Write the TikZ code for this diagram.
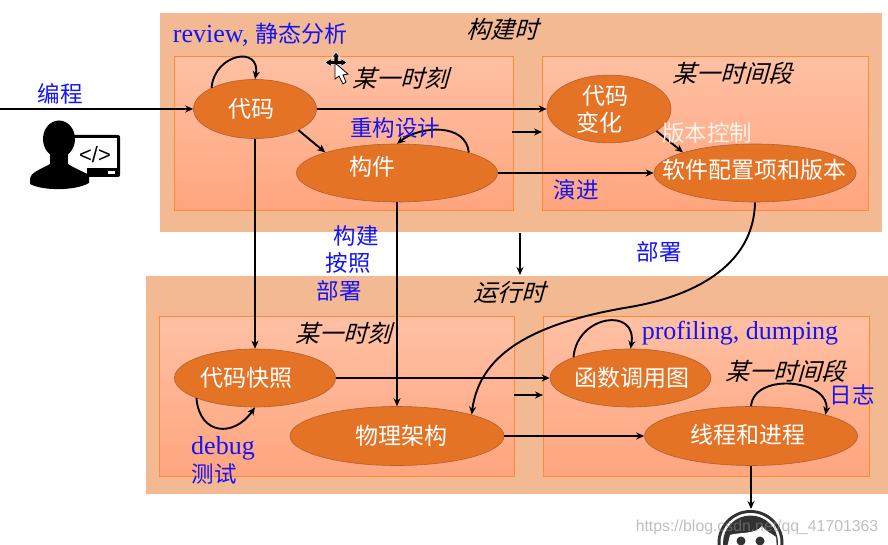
\documentclass[tikz,border=0pt]{standalone}
\usepackage{fontspec}
\setmainfont{Liberation Serif}
\newfontfamily\cjk{Noto Sans CJK SC}
\newfontfamily\cjkslant[FakeSlant=0.28]{Noto Sans CJK SC}
\newfontfamily\marksans{Liberation Sans}
\usetikzlibrary{positioning,arrows.meta,shapes.geometric}
\def\moved#1#2#3{\raisebox{#2}{\makebox[0pt]{\hspace{#1}\hspace{#1}#3}}}
\definecolor{outerfill}{RGB}{243,185,147}
\definecolor{innertop}{RGB}{255,192,164}
\definecolor{innerbottom}{RGB}{255,165,126}
\definecolor{boxline}{RGB}{255,138,51}
\definecolor{stagefill}{RGB}{228,115,38}
\definecolor{stageline}{RGB}{176,96,48}
\definecolor{notecolor}{RGB}{20,20,245}
\definecolor{headdark}{RGB}{50,50,50}
\begin{document}
\begin{tikzpicture}[>={Stealth[width=7pt,length=8pt]}, line width=1.9pt, x=1pt, y=1pt,
outerbox/.style={rectangle, anchor=north west, fill=outerfill, inner sep=0pt},
innerbox/.style={rectangle, anchor=north west, draw=boxline, line width=0.8pt, top color=innertop, bottom color=innerbottom, inner sep=0pt},
stage/.style={ellipse, draw=stageline, line width=0.6pt, fill=stagefill, text=white, inner sep=0pt, font=\cjk\fontsize{23}{27}\selectfont},
note/.style={text=notecolor, inner sep=0pt, font=\cjk\fontsize{22.5}{27}\selectfont},
latinnote/.style={text=notecolor, inner sep=0pt, font=\fontsize{26}{28}\selectfont},
period/.style={text=black, inner sep=0pt, font=\cjkslant\fontsize{24}{27}\selectfont}]
\useasboundingbox (0,0) rectangle (888,-545);
\fill[white] (0,0) rectangle (888,-545);
% regions
\draw (159,-12)node[outerbox,minimum width=722pt,minimum height=219pt](buildtime){};
\draw (145,-275)node[outerbox,minimum width=743pt,minimum height=218pt](runtime){};
\draw (174,-56)node[innerbox,minimum width=339pt,minimum height=154pt](buildmoment){};
\draw (542,-56)node[innerbox,minimum width=326pt,minimum height=154pt](buildspan){};
\draw (159,-316)node[innerbox,minimum width=355pt,minimum height=160pt](runmoment){};
\draw (543,-316)node[innerbox,minimum width=326pt,minimum height=160pt](runspan){};
% stages
\draw (255,-109)node[stage,minimum width=123pt,minimum height=59pt](code){\moved{-4pt}{1pt}{代码}};
\draw (397,-173)node[stage,minimum width=201pt,minimum height=58pt](component){\moved{-25pt}{15pt}{构件}};
\draw (609,-109)node[stage,minimum width=124pt,minimum height=59pt](codechange){\moved{-4pt}{13pt}{代码}\moved{-10pt}{-14pt}{变化}};
\draw (755,-173)node[stage,minimum width=202pt,minimum height=58pt](scm){\moved{-1pt}{9pt}{软件配置项和版本}};
\draw (255,-378)node[stage,minimum width=161pt,minimum height=58pt](snapshot){\moved{-9pt}{0pt}{代码快照}};
\draw (397,-436)node[stage,minimum width=214pt,minimum height=59pt](arch){\moved{4pt}{0pt}{物理架构}};
\draw (630.5,-378)node[stage,minimum width=161pt,minimum height=58pt](callgraph){\moved{1pt}{2pt}{函数调用图}};
\draw (751,-436)node[stage,minimum width=213pt,minimum height=59pt](threads){\moved{-3pt}{4pt}{线程和进程}};
\coordinate (input) at (0,-109);
\coordinate (gapa) at (512,-132);
\coordinate (gapb) at (542,-132);
\coordinate (gapc) at (514,-395);
\coordinate (gapd) at (543,-395);
\coordinate (curvemid) at (630,-307);
\coordinate (headtop) at (751,-509);
% connectors
\path[->] (input) edge (code.west);
\path[->] (code.east) edge (codechange.west);
\path[->] (component.east) edge (scm.west);
\path[->] (code.-26) edge (component.164);
\path[->] (codechange.-25) edge (scm.164);
\path[->] (code.south) edge (snapshot.north);
\path[->] (component.south) edge (arch.north);
\path[->] (snapshot.east) edge (callgraph.west);
\path[->] (arch.east) edge (threads.west);
\path[->] (gapa) edge (gapb);
\path[->] (gapc) edge (gapd);
\path[->] (buildtime.south -| 520,0) edge (runtime.north -| 520,0);
\path[->] (threads.south) edge (headtop);
\draw[->] (scm.south) .. controls (754,-262) and (700,-295) .. (curvemid) .. controls (540,-322) and (480,-350) .. (arch.16.5);
\path[->] (code.154) edge[out=85,in=80,looseness=2] (code.north);
\path[->] (component.16) edge[out=95,in=38,looseness=1.05] (component.north);
\path[->] (snapshot.199) edge[out=-85,in=-125,looseness=1.6] (snapshot.south);
\path[->] (callgraph.160) edge[out=85,in=80,looseness=1.9] (callgraph.north);
\path[->] (threads.north) edge[out=85,in=80,looseness=1.2] (threads.16);
% texts
\draw (172,-35)node[latinnote,anchor=west](review){review, {\cjk\fontsize{23}{27}\selectfont 静态分析}};
\draw (60,-94)node[note](coding){编程};
\draw (395,-128)node[note](refactor){重构设计};
\draw (707,-133)node[note,text=white!92!orange](versioning){版本控制};
\draw (576,-190)node[note](evolve){演进};
\draw (659,-252)node[note](deploya){部署};
\draw (356,-236)node[note](construct){构建};
\draw (348,-263)node[note](according){按照};
\draw (339,-291)node[note](deployb){部署};
\draw (223,-448)node[latinnote](debug){debug};
\draw (214,-474)node[note](testing){测试};
\draw (740,-333)node[latinnote](profiling){profiling, dumping};
\draw (852,-395)node[note](logging){日志};
\draw (502,-29)node[period](buildlabel){构建时};
\draw (400,-78)node[period](momenta){某一时刻};
\draw (732,-73)node[period](spana){某一时间段};
\draw (509,-292)node[period](runlabel){运行时};
\draw (343,-333)node[period](momentb){某一时刻};
\draw (785,-371)node[period](spanb){某一时间段};
% programmer at a screen
\fill[black,rounded corners=2pt] (66,-135) rectangle (120,-177);
\fill[white] (62,-138) rectangle (117,-168);
\fill[white] (62,-168) rectangle (87,-179);
\fill[white] (108,-171) rectangle (115,-174);
\draw (95,-155)node[inner sep=0pt,font=\marksans\fontsize{22}{22}\selectfont](tag){</>};
\fill[white] (60,-125) rectangle (66,-135);
\fill[white] (66,-128) rectangle (74,-135);
\fill[black] (59,-139) ellipse (16 and 18.5);
\fill[black] (50,-150) rectangle (68,-166);
\fill[black] (30,-180) .. controls (30,-172) and (40,-170) .. (50,-164) -- (68,-164) .. controls (74,-168) and (84,-172) .. (89,-175) -- (89,-183) .. controls (75,-191) and (43,-191) .. (30,-184) -- cycle;
% support head, cut by the lower edge
\begin{scope}
\clip (0,0) rectangle (888,-545);
\fill[headdark] (750.5,-543) circle (33);
\fill[white] (750.5,-543) circle (30);
\fill[headdark] (750.5,-543) circle (27.5);
\fill[white] (724,-560) -- (730,-535) .. controls (737,-532) and (755,-535) .. (762,-526) .. controls (765,-531) and (771,-533) .. (776,-537) -- (778,-560) -- cycle;
\fill[headdark] (741,-541) circle (4.5);
\fill[headdark] (760,-541) circle (4.5);
\end{scope}
% pointer
\draw[black,fill=black,line width=0.5pt,draw=white] (336,-52) -- (340,-57) -- (338,-57) -- (338,-60.5) -- (341,-60.5) -- (341,-58.5) -- (347,-62.5) -- (341,-66.5) -- (341,-64.5) -- (331,-64.5) -- (331,-66.5) -- (325,-62.5) -- (331,-58.5) -- (331,-60.5) -- (334,-60.5) -- (334,-57) -- (332,-57) -- cycle;
\draw[black,fill=white,line width=0.8pt] (335,-63) -- (335,-79) -- (339,-76) -- (343,-84) -- (346,-82) -- (343,-75) -- (348,-74) -- cycle;
% watermark
\draw (757,-527)node[inner sep=0pt,text=black!45,opacity=0.55,font=\marksans\fontsize{15.8}{18}\selectfont](stamp){https://blog.csdn.net/qq\_41701363};
\end{tikzpicture}
\end{document}
